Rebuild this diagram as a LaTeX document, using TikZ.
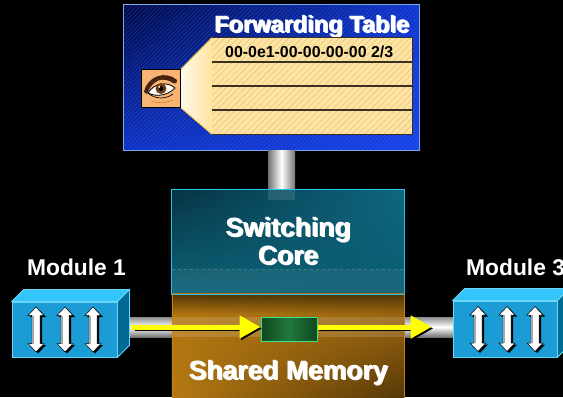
\documentclass[tikz,border=0pt]{standalone}
\usepackage{fontspec}
\setmainfont{Liberation Sans}
\usetikzlibrary{arrows.meta,patterns.meta,calc,shadings,fadings}

\definecolor{panelEdge}{HTML}{7FA8E8}
\definecolor{panelUL}{RGB}{0,10,72}
\definecolor{panelUR}{RGB}{14,54,205}
\definecolor{panelLL}{RGB}{12,50,196}
\definecolor{panelLR}{RGB}{22,66,232}
\definecolor{panelTex}{RGB}{120,150,255}
\definecolor{rowFill}{HTML}{FFE3A0}
\definecolor{rowHatch}{HTML}{D9BE82}
\definecolor{rowLine}{HTML}{3A3020}
\definecolor{coneLight}{RGB}{255,250,236}
\definecolor{coneEdge}{HTML}{F2C040}
\definecolor{eyeSkin}{HTML}{F9B474}
\definecolor{brow}{RGB}{70,36,14}
\definecolor{iris}{RGB}{120,62,20}
\definecolor{coreUL}{RGB}{3,50,66}
\definecolor{coreUR}{RGB}{12,102,128}
\definecolor{coreLL}{RGB}{12,98,120}
\definecolor{coreLR}{RGB}{8,90,110}
\definecolor{memUL}{RGB}{176,116,14}
\definecolor{memUR}{RGB}{168,110,14}
\definecolor{memLL}{RGB}{180,120,16}
\definecolor{memLR}{RGB}{78,50,6}
\definecolor{memEdge}{RGB}{200,130,20}
\definecolor{coreEdge}{HTML}{22C4EA}
\definecolor{modFront}{HTML}{1C9CD4}
\definecolor{modTop}{HTML}{34C6FA}
\definecolor{modSide}{HTML}{006A94}
\definecolor{modEdge}{HTML}{6AD6FA}
\definecolor{flow}{HTML}{FFFF00}
\definecolor{bufEdge}{HTML}{38E888}
\definecolor{bufDark}{RGB}{16,72,32}
\definecolor{bufMid}{RGB}{34,120,60}
\definecolor{bufRight}{RGB}{14,70,30}

\tikzset{
  title/.style={text=white,font=\fontsize{23.6}{28}\selectfont\bfseries,inner sep=0pt,anchor=base},
  modlabel/.style={text=white,font=\fontsize{22.8}{27}\selectfont\bfseries,inner sep=0pt,anchor=base},
  blocklabel/.style={text=white,font=\fontsize{26.5}{31}\selectfont\bfseries,inner sep=0pt,anchor=base},
  shadowtext/.style={text=black!85},
  pipeV/.style={left color=black!55,right color=black!55,middle color=white},
  pipeH/.style={top color=black!45,bottom color=black!55,middle color=white},
  flowline/.style={draw=flow,line width=5pt},
  flowtip/.style={-{Triangle[length=21pt,width=22pt]}},
  front/.style={fill=modFront,draw=modEdge,line width=0.8pt,minimum width=105pt,minimum height=55pt,inner sep=0pt},
  udarrow/.pic={
    \fill[black] (2,-21) -- (10,-12.5) -- (6,-12.5) -- (6,15.5) -- (10,15.5) -- (2,24) -- (-6,15.5) -- (-2,15.5) -- (-2,-12.5) -- (-6,-12.5) -- cycle;
    \filldraw[fill=white,draw=black,line width=0.5pt] (0,-22.5) -- (8,-14) -- (4,-14) -- (4,14) -- (8,14) -- (0,22.5) -- (-8,14) -- (-4,14) -- (-4,-14) -- (-8,-14) -- cycle;
    \fill[black!35] (-3.7,-14) rectangle (-1.6,14);
  }
}

\begin{document}
\begin{tikzpicture}[x=1pt,y=-1pt]
\useasboundingbox (0,0) rectangle (563,397);
\fill[black] (0,0) rectangle (563,397);

% ---------- forwarding table panel ----------
\node[minimum width=295pt,minimum height=145pt,inner sep=0pt] (ft) at (271.5,77.5) {};
\shade[upper left=panelUL,upper right=panelUR,lower left=panelLL,lower right=panelLR]
  (ft.north west) rectangle (ft.south east);
\fill[pattern={Lines[angle=45,distance=3pt,line width=0.5pt]},pattern color=panelTex,opacity=0.25]
  (ft.north west) rectangle (ft.south east);
\draw[panelEdge,line width=1.2pt] (ft.north west) rectangle (ft.south east);

\node[shadowtext,title] (ftsh) at (313,33.5) {Forwarding Table};
\node[title] (fttitle) at (311.5,32) {Forwarding Table};

% table rows
\node[minimum width=200pt,minimum height=96pt,inner sep=0pt] (tbl) at (312,86) {};
\fill[rowFill] (tbl.north west) rectangle (tbl.south east);
\fill[pattern={Lines[angle=45,distance=4.5pt,line width=0.4pt]},pattern color=rowHatch]
  (tbl.north west) rectangle (tbl.south east);
\draw[rowLine,line width=1.1pt] (tbl.north west) rectangle (tbl.south east);
\foreach \yy in {62,86,110}{\draw[rowLine,line width=1.1pt] (212,\yy) -- (412,\yy);}
\node[font=\fontsize{15.9}{19}\selectfont\bfseries,inner sep=0pt,anchor=base west] (entry) at (225,57) {00-0e1-00-00-00-00 2/3};

% eye and viewing cone
\node[minimum width=38pt,minimum height=37pt,inner sep=0pt] (eye) at (161,88.5) {};
\shade[left color=coneLight,right color=rowFill]
  (eye.north east) -- (tbl.north west) -- (tbl.south west) -- (eye.south east) -- cycle;
\draw[coneEdge,line width=0.9pt] (eye.north east) -- (tbl.north west);
\draw[coneEdge,line width=0.9pt] (eye.south east) -- (tbl.south west);
\filldraw[fill=eyeSkin,draw=black,line width=1pt] (eye.north west) rectangle (eye.south east);
% eyebrow
\fill[brow] (144,92) .. controls (147,76) and (166,70) .. (177,80)
  .. controls (177,84) and (175,84) .. (173,83) .. controls (163,76) and (152,80) .. (147,94) -- cycle;
% eye shape
\filldraw[fill=white,draw=black,line width=0.8pt] (148,93) .. controls (154,83) and (167,81) .. (175,88)
  .. controls (167,96) and (156,97) .. cycle;
\fill[iris] (161,88.5) circle (5.5pt);
\fill[black] (161,88.5) circle (2.4pt);
\fill[white] (159.3,86.8) circle (1.1pt);
\draw[black,line width=0.7pt] (148,93) .. controls (156,100) and (166,99) .. (173,94);
\draw[orange!80!black,line width=0.4pt] (151,101) .. controls (158,104) and (166,103) .. (173,100);

% ---------- switching core and shared memory ----------
\node[minimum width=232pt,minimum height=104pt,inner sep=0pt] (core) at (288,242) {};
\node[minimum width=232pt,minimum height=110pt,inner sep=0pt] (mem) at (288,349) {};

% vertical pipe from table to core
\coordinate (pipeTop) at (281.5,150);
\shade[pipeV] ($(pipeTop)+(-13.5,0)$) rectangle ($(pipeTop |- core.north)+(13.5,0)$);

% horizontal pipe joining the modules
\coordinate (pipeL) at (129,317);
\coordinate (pipeR) at (453,337);
\shade[pipeH] (pipeL) rectangle (pipeR);

% core body
\shade[upper left=coreUL,upper right=coreUR,lower left=coreLL,lower right=coreLR]
  (core.north west) rectangle (core.south east);
\fill[pattern={Lines[angle=45,distance=3pt,line width=0.5pt]},pattern color=white,opacity=0.05]
  (core.north west) rectangle (core.south east);
\fill[white,opacity=0.06] (172,269) rectangle (404,294);
\draw[white,opacity=0.15,dashed,line width=0.4pt] (172,269) -- (404,269);
\fill[white,opacity=0.12] (268,190) rectangle (295,200);

% memory body
\shade[upper left=memUL,upper right=memUR,lower left=memLL,lower right=memLR]
  (mem.north west) rectangle (mem.south east);
\fill[pattern={Lines[angle=45,distance=3pt,line width=0.5pt]},pattern color=white,opacity=0.05]
  (mem.north west) rectangle (mem.south east);
\fill[black,opacity=0.55,path fading=south] (172,294) rectangle (404,314);
\fill[white,opacity=0.14] (172,317) rectangle (404,337);
\draw[coreEdge,line width=0.8pt] (core.north west) rectangle (core.south east);
\draw[memEdge,line width=0.6pt] (mem.north west) -- (mem.south west);
\draw[memEdge,line width=0.6pt] (mem.north east) -- (mem.south east);

\node[shadowtext,blocklabel] at (289.5,237.5) {Switching};
\node[blocklabel] (sw) at (288,236) {Switching};
\node[shadowtext,blocklabel] at (289.5,265.5) {Core};
\node[blocklabel] (co) at (288,264) {Core};
\node[shadowtext,blocklabel] at (289.5,380.5) {Shared Memory};
\node[blocklabel] (sm) at (288,379) {Shared Memory};

% ---------- modules ----------
\node[front] (m1) at (64.5,329.5) {};
\fill[modTop,draw=modEdge,line width=0.8pt] (m1.north west) -- ++(12,-12) -- ($(m1.north east)+(12,-12)$) -- (m1.north east) -- cycle;
\fill[modSide,draw=modEdge,line width=0.8pt] (m1.north east) -- ++(12,-12) -- ($(m1.south east)+(12,-12)$) -- (m1.south east) -- cycle;
\foreach \xx in {36,65,93}{\pic at (\xx,329.5) {udarrow};}
\node[modlabel] (m1l) at (76.5,275) {Module 1};

\node[front,minimum width=104pt,minimum height=56pt] (m3) at (505,329) {};
\fill[modTop,draw=modEdge,line width=0.8pt] (m3.north west) -- ++(12,-12) -- ($(m3.north east)+(12,-12)$) -- (m3.north east) -- cycle;
\fill[modSide,draw=modEdge,line width=0.8pt] (m3.north east) -- ++(12,-12) -- ($(m3.south east)+(12,-12)$) -- (m3.south east) -- cycle;
\foreach \xx in {478,507,535}{\pic at (\xx,329) {udarrow};}
\node[modlabel,anchor=base west] (m3l) at (466,275) {Module 3};

% ---------- buffered frame and its path ----------
\node[minimum width=56pt,minimum height=24pt,inner sep=0pt,draw=bufEdge,line width=1pt,
      left color=bufDark,right color=bufRight,middle color=bufMid] (buf) at (289,329) {};
\coordinate (src) at (131,327);
\coordinate (bufin) at (buf.west |- src);
\coordinate (bufout) at (buf.east |- src);
\draw[black,line width=5pt,flowtip,shorten <=2pt] ($(src)+(1.5,1.5)$) -- ($(bufin)+(1.5,1.5)$);
\draw[flowline,flowtip] (src) -- (bufin);
\draw[black,line width=5pt,flowtip] ($(bufout)+(1.5,1.5)$) -- ($(m3.west |- src)+(-19.5,1.5)$);
\draw[flowline,flowtip,shorten >=21pt] (bufout) -- (m3.west |- src);
\end{tikzpicture}
\end{document}
